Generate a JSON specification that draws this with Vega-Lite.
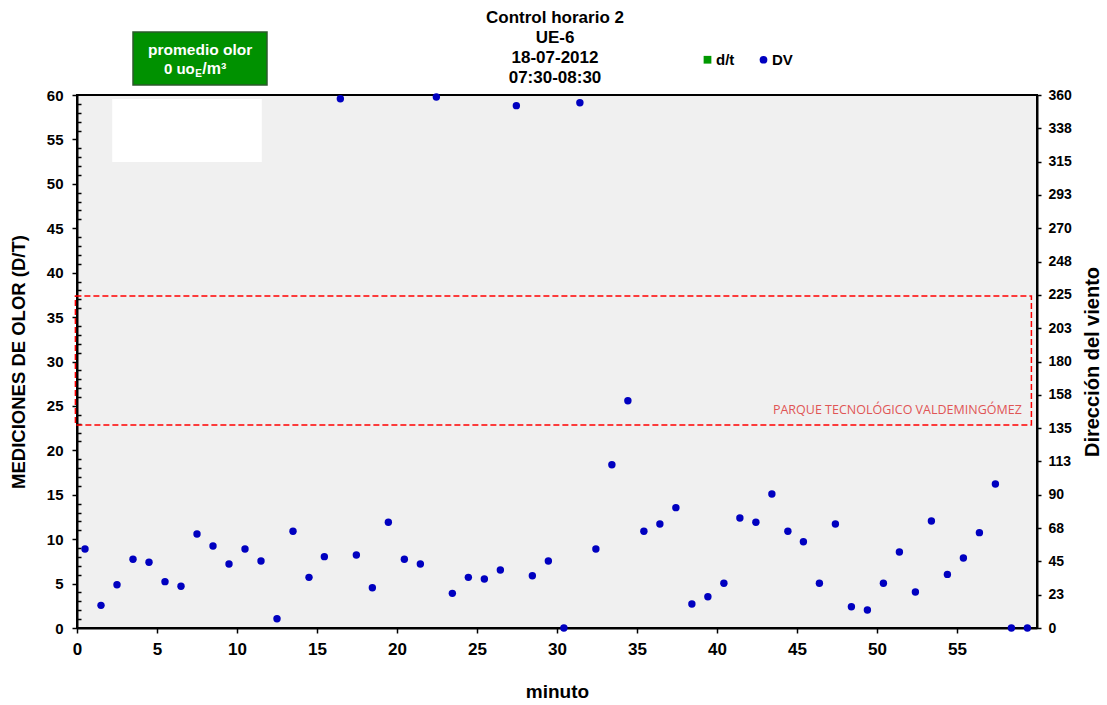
{
  "$schema": "https://vega.github.io/schema/vega-lite/v6.json",
  "width": 960,
  "height": 533,
  "autosize": {"type": "none"},
  "padding": {"left": 77, "top": 95, "right": 70, "bottom": 77},
  "background": "white",
  "config": {
    "font": "Liberation Sans",
    "view": {"fill": "#f0f0f0", "stroke": "black", "strokeWidth": 2},
    "axis": {"labelFont": "Liberation Sans", "labelFontWeight": "bold", "labelColor": "black", "titleColor": "black", "titleFont": "Liberation Sans", "titleFontWeight": "bold", "domainColor": "black", "domainWidth": 2, "tickColor": "black", "tickWidth": 1.5, "grid": false, "labelOverlap": false},
    "legend": {"orient": "none", "legendX": 623, "legendY": -43, "direction": "horizontal", "padding": 0, "labelFont": "Liberation Sans", "labelFontSize": 15, "labelFontWeight": "bold", "labelColor": "black", "symbolSize": 60, "symbolStrokeWidth": 0, "columnPadding": 21, "labelOffset": 1}
  },
  "title": {"text": ["Control horario 2", "UE-6", "18-07-2012", "07:30-08:30"], "fontSize": 17, "fontWeight": "bold", "font": "Liberation Sans", "lineHeight": 20, "anchor": "middle", "offset": 12, "dy": 68, "dx": -2, "color": "black"},
  "data": {"values": [
    {"t": 0.5, "dv": 53.4}, {"t": 1.5, "dv": 15.3}, {"t": 2.5, "dv": 29.2}, {"t": 3.5, "dv": 46.4}, {"t": 4.5, "dv": 44.4},
    {"t": 5.5, "dv": 31.3}, {"t": 6.5, "dv": 28.2}, {"t": 7.5, "dv": 63.5}, {"t": 8.5, "dv": 55.4}, {"t": 9.5, "dv": 43.2},
    {"t": 10.5, "dv": 53.4}, {"t": 11.5, "dv": 45.3}, {"t": 12.5, "dv": 6.3}, {"t": 13.5, "dv": 65.3}, {"t": 14.5, "dv": 34.2},
    {"t": 15.46, "dv": 48.2}, {"t": 16.46, "dv": 357.5}, {"t": 17.46, "dv": 49.3}, {"t": 18.46, "dv": 27.2}, {"t": 19.46, "dv": 71.4},
    {"t": 20.46, "dv": 46.4}, {"t": 21.46, "dv": 43.2}, {"t": 22.46, "dv": 358.6}, {"t": 23.46, "dv": 23.4}, {"t": 24.46, "dv": 34.2},
    {"t": 25.46, "dv": 33.1}, {"t": 26.46, "dv": 39.2}, {"t": 27.46, "dv": 352.8}, {"t": 28.46, "dv": 35.3}, {"t": 29.46, "dv": 45.3},
    {"t": 30.43, "dv": 0}, {"t": 31.43, "dv": 354.8}, {"t": 32.43, "dv": 53.4}, {"t": 33.43, "dv": 110.3}, {"t": 34.43, "dv": 153.5},
    {"t": 35.43, "dv": 65.3}, {"t": 36.43, "dv": 70.2}, {"t": 37.43, "dv": 81.3}, {"t": 38.43, "dv": 16.2}, {"t": 39.43, "dv": 21.1},
    {"t": 40.43, "dv": 30.2}, {"t": 41.43, "dv": 74.3}, {"t": 42.43, "dv": 71.4}, {"t": 43.43, "dv": 90.5}, {"t": 44.43, "dv": 65.3},
    {"t": 45.4, "dv": 58.3}, {"t": 46.4, "dv": 30.2}, {"t": 47.4, "dv": 70.2}, {"t": 48.4, "dv": 14.4}, {"t": 49.4, "dv": 12.2},
    {"t": 50.4, "dv": 30.2}, {"t": 51.4, "dv": 51.3}, {"t": 52.4, "dv": 24.3}, {"t": 53.4, "dv": 72.3}, {"t": 54.4, "dv": 36.2},
    {"t": 55.4, "dv": 47.3}, {"t": 56.4, "dv": 64.4}, {"t": 57.4, "dv": 97.3}, {"t": 58.4, "dv": 0}, {"t": 59.4, "dv": 0}
  ]},
  "layer": [
    {
      "data": {"values": [{}]},
      "layer": [
        {
          "mark": {"type": "rect", "fill": "white"},
          "encoding": {
            "x": {"datum": 2.2, "type": "quantitative", "scale": {"domain": [0, 60], "nice": false}},
            "x2": {"datum": 11.55},
            "y": {"datum": 59.55, "type": "quantitative", "scale": {"domain": [0, 60], "nice": false},
              "axis": {"orient": "left", "values": [0,1,2,3,4,5,6,7,8,9,10,11,12,13,14,15,16,17,18,19,20,21,22,23,24,25,26,27,28,29,30,31,32,33,34,35,36,37,38,39,40,41,42,43,44,45,46,47,48,49,50,51,52,53,54,55,56,57,58,59,60],
                "tickCount": 61, "labelOverlap": false,
                "labelExpr": "datum.value % 5 === 0 ? datum.label : ''",
                "tickSize": {"condition": {"test": "datum.value % 5 === 0", "value": 5}, "value": -4},
                "labelFontSize": 15, "labelPadding": 9,
                "title": "MEDICIONES DE OLOR (D/T)", "titleFontSize": 18.5, "titlePadding": 18}},
            "y2": {"datum": 52.45}
          }
        },
        {
          "mark": {"type": "rect", "fill": null, "stroke": "#ff0000", "strokeWidth": 1.5, "strokeDash": [6, 3]},
          "encoding": {
            "x": {"datum": -0.1, "type": "quantitative"},
            "x2": {"datum": 59.65},
            "y": {"datum": 37.37, "type": "quantitative"},
            "y2": {"datum": 22.85}
          }
        },
        {
          "mark": {"type": "text", "text": "PARQUE TECNOLÓGICO VALDEMINGÓMEZ", "align": "right", "baseline": "alphabetic", "font": "Open Sans", "fontSize": 12.5, "color": "#e05555"},
          "encoding": {
            "x": {"datum": 59.05, "type": "quantitative"},
            "y": {"datum": 24.1, "type": "quantitative"}
          }
        },
        {
          "mark": {"type": "rect", "fill": "#009100", "stroke": "#2d5a2d", "strokeWidth": 1.5},
          "encoding": {
            "x": {"datum": 3.5, "type": "quantitative"},
            "x2": {"datum": 11.875},
            "y": {"datum": 67.1, "type": "quantitative"},
            "y2": {"datum": 61.13}
          }
        },
        {
          "mark": {"type": "text", "text": "promedio olor", "align": "center", "baseline": "alphabetic", "fontSize": 15.5, "fontWeight": "bold", "color": "white"},
          "encoding": {
            "x": {"datum": 7.7, "type": "quantitative"},
            "y": {"datum": 64.5, "type": "quantitative"}
          }
        },
        {
          "mark": {"type": "text", "text": "0 uo", "align": "right", "baseline": "alphabetic", "fontSize": 15, "fontWeight": "bold", "color": "white"},
          "encoding": {
            "x": {"datum": 7.36, "type": "quantitative"},
            "y": {"datum": 62.37, "type": "quantitative"}
          }
        },
        {
          "mark": {"type": "text", "text": "E", "align": "left", "baseline": "alphabetic", "fontSize": 10, "fontWeight": "bold", "color": "white"},
          "encoding": {
            "x": {"datum": 7.39, "type": "quantitative"},
            "y": {"datum": 62.03, "type": "quantitative"}
          }
        },
        {
          "mark": {"type": "text", "text": "/m³", "align": "left", "baseline": "alphabetic", "fontSize": 16, "fontWeight": "bold", "color": "white"},
          "encoding": {
            "x": {"datum": 7.83, "type": "quantitative"},
            "y": {"datum": 62.37, "type": "quantitative"}
          }
        }
      ]
    },
    {
      "mark": {"type": "point", "filled": true, "size": 55, "opacity": 1},
      "encoding": {
        "x": {"field": "t", "type": "quantitative", "scale": {"domain": [0, 60], "nice": false},
          "axis": {"values": [0, 5, 10, 15, 20, 25, 30, 35, 40, 45, 50, 55], "tickCount": 12, "tickSize": 5, "labelFontSize": 17, "labelPadding": 8, "labelFlush": false, "title": "minuto", "titleFontSize": 19, "titlePadding": 25}},
        "y": {"field": "dv", "type": "quantitative", "scale": {"domain": [0, 360], "nice": false},
          "axis": {"orient": "right", "values": [0, 22.5, 45, 67.5, 90, 112.5, 135, 157.5, 180, 202.5, 225, 247.5, 270, 292.5, 315, 337.5, 360], "tickCount": 17,
            "labelExpr": "format(round(datum.value), 'd')", "tickSize": 4, "labelPadding": 7, "labelFontSize": 14,
            "title": "Dirección del viento", "titleFontSize": 20, "titleAngle": 270, "titleBaseline": "top", "titlePadding": 11}},
        "color": {"datum": "DV", "type": "nominal", "scale": {"domain": ["d/t", "DV"], "range": ["#009900", "#0000c0"]}, "legend": {"title": null}},
        "shape": {"datum": "DV", "type": "nominal", "scale": {"domain": ["d/t", "DV"], "range": ["square", "circle"]}, "legend": {"title": null}}
      }
    }
  ],
  "resolve": {"scale": {"y": "independent"}}
}
